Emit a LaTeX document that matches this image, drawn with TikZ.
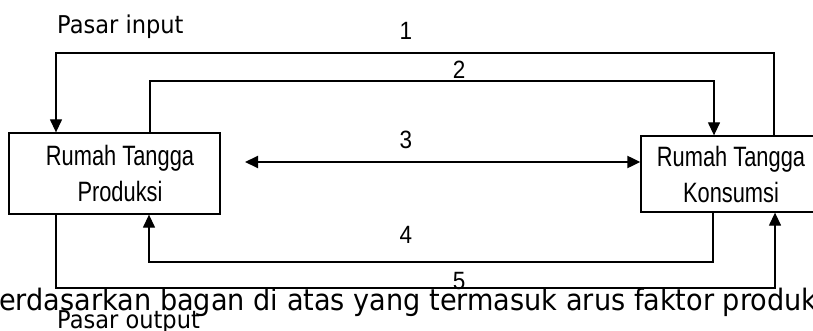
\documentclass[tikz,border=0pt]{standalone}
\usepackage{fontspec}
\setmainfont{Liberation Sans}
\newfontfamily\boxfont{Liberation Sans}[FakeStretch=0.78]
\newfontfamily\numfont{Liberation Sans}[FakeStretch=0.9]
\newfontfamily\labfont{DejaVu Sans}[FakeStretch=0.92]
\usetikzlibrary{arrows.meta}
\begin{document}
\begin{tikzpicture}[x=1pt,y=-1pt,
  boxnode/.style={draw, line width=1.3pt, inner sep=0pt, align=center,
    font=\boxfont\fontsize{28}{36}\selectfont},
  conn/.style={line width=1.3pt, -{Triangle[length=13pt,width=12pt]}},
  dbl/.style={line width=2pt, {Triangle[length=13pt,width=12pt]}-{Triangle[length=13pt,width=12pt]}},
  numlab/.style={inner sep=0pt, anchor=base, font=\numfont\fontsize{25}{25}\selectfont},
  pasar/.style={inner sep=0pt, anchor=base west, font=\labfont\fontsize{24.5}{24.5}\selectfont},
  sentence/.style={inner sep=0pt, anchor=base west, font=\labfont\fontsize{29.5}{29.5}\selectfont}]
\useasboundingbox (0,0) rectangle (813,331);
\clip (0,0) rectangle (813,331);
% boxes
\node[boxnode, minimum width=211pt, minimum height=81pt] (L) at (114.5,173.5)
  {\hspace*{11pt}Rumah Tangga\\\hspace*{11pt}Produksi};
\node[boxnode, minimum width=180pt, minimum height=76pt] (R) at (731,174)
  {Rumah Tangga\\Konsumsi};
% corner coordinates
\coordinate (a1) at (56,53);
\coordinate (b1) at (774,53);
\coordinate (a2) at (150,81);
\coordinate (b2) at (714,81);
\coordinate (c3) at (245,162);
\coordinate (a4) at (149,262);
\coordinate (b4) at (713,262);
\coordinate (a5) at (56,288);
\coordinate (b5) at (775,288);
% connectors
\draw[conn] (R.north -| b1) -- (b1) -- (a1) -- (L.north -| a1);
\draw[conn] (L.north -| a2) -- (a2) -- (b2) -- (R.north -| b2);
\draw[dbl] (c3) -- (R.west |- c3);
\draw[conn] (R.south -| b4) -- (b4) -- (a4) -- (L.south -| a4);
\draw[conn] (L.south -| a5) -- (a5) -- (b5) -- (R.south -| b5);
% labels
\node[pasar] (pin) at (57,34) {Pasar input};
\node[numlab] (n1) at (406,40) {1};
\node[numlab] (n2) at (459,79) {2};
\node[numlab] (n3) at (406,149) {3};
\node[numlab] (n4) at (406,243) {4};
\node[numlab] (n5) at (459,289) {5};
\node[sentence] (sent) at (-1,310) {erdasarkan bagan di atas yang termasuk arus faktor produk};
\node[pasar] (pout) at (57,328) {Pasar output};
\end{tikzpicture}
\end{document}
